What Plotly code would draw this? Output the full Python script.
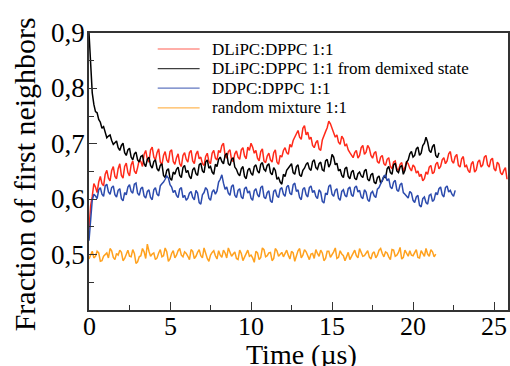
import plotly.graph_objects as go

# ---------------- data ----------------
dt = 0.2  # main sampling step in microseconds (mid-points are at +0.1)

red_vals = [
    0.545, 0.605, 0.622, 0.631, 0.628, 0.645, 0.638, 0.652, 0.641, 0.655,
    0.643, 0.659, 0.648, 0.662, 0.651, 0.657, 0.668, 0.681, 0.672, 0.689,
    0.676, 0.684, 0.667, 0.679, 0.671, 0.686, 0.668, 0.675, 0.664, 0.679,
    0.672, 0.684, 0.669, 0.681, 0.673, 0.664, 0.677, 0.668, 0.683, 0.674,
    0.688, 0.697, 0.679, 0.686, 0.671, 0.682, 0.676, 0.689, 0.678, 0.694,
    0.701, 0.683, 0.674, 0.686, 0.669, 0.678, 0.671, 0.684, 0.667, 0.679,
    0.688, 0.684, 0.699, 0.706, 0.719, 0.712, 0.728, 0.716, 0.708, 0.697,
    0.702, 0.691, 0.707, 0.722, 0.741, 0.728, 0.712, 0.703, 0.714, 0.696,
    0.689, 0.678, 0.684, 0.674, 0.693, 0.681, 0.697, 0.679, 0.683, 0.668,
    0.676, 0.664, 0.672, 0.659, 0.667, 0.655, 0.663, 0.651, 0.668, 0.656,
    0.662, 0.647, 0.641, 0.633, 0.649, 0.658, 0.646, 0.663, 0.655, 0.671,
    0.664, 0.682, 0.669, 0.677, 0.661, 0.673, 0.658, 0.652, 0.664, 0.649,
    0.667, 0.658, 0.676, 0.662, 0.671, 0.655, 0.667, 0.648, 0.652, 0.636,
]
red_mids = [
    0.588, 0.628, 0.612, 0.641, 0.624, 0.652, 0.633, 0.659, 0.637, 0.664,
    0.638, 0.665, 0.642, 0.669, 0.646, 0.671, 0.659, 0.688, 0.667, 0.694,
    0.671, 0.691, 0.662, 0.686, 0.666, 0.689, 0.663, 0.682, 0.659, 0.684,
    0.667, 0.688, 0.664, 0.687, 0.676, 0.661, 0.683, 0.664, 0.688, 0.671,
    0.684, 0.701, 0.674, 0.689, 0.668, 0.687, 0.672, 0.693, 0.673, 0.688,
    0.694, 0.688, 0.669, 0.691, 0.666, 0.683, 0.667, 0.689, 0.663, 0.676,
    0.693, 0.681, 0.694, 0.713, 0.724, 0.708, 0.733, 0.721, 0.712, 0.693,
    0.706, 0.688, 0.713, 0.729, 0.736, 0.722, 0.716, 0.699, 0.709, 0.699,
    0.684, 0.675, 0.688, 0.679, 0.697, 0.685, 0.692, 0.674, 0.686, 0.665,
    0.679, 0.661, 0.675, 0.655, 0.669, 0.652, 0.666, 0.657, 0.664, 0.651,
    0.658, 0.651, 0.645, 0.637, 0.645, 0.661, 0.649, 0.667, 0.659, 0.675,
    0.669, 0.686, 0.665, 0.681, 0.658, 0.677, 0.661, 0.648, 0.668, 0.653,
    0.671, 0.662, 0.679, 0.658, 0.674, 0.651, 0.663, 0.644, 0.657,
]

black_early_t = [0.0, 0.05, 0.1, 0.15]
black_early = [0.900, 0.865, 0.838, 0.815]
black_vals = [  # from t = 0.2 onwards
    0.792, 0.758, 0.744, 0.728, 0.721, 0.714, 0.706, 0.702, 0.693, 0.697,
    0.684, 0.689, 0.676, 0.682, 0.671, 0.677, 0.664, 0.672, 0.661, 0.668,
    0.655, 0.661, 0.643, 0.652, 0.638, 0.649, 0.654, 0.643, 0.657, 0.648,
    0.641, 0.653, 0.646, 0.662, 0.651, 0.667, 0.656, 0.649, 0.663, 0.672,
    0.668, 0.679, 0.664, 0.672, 0.658, 0.646, 0.655, 0.641, 0.652, 0.647,
    0.659, 0.651, 0.663, 0.654, 0.661, 0.648, 0.657, 0.636, 0.631, 0.645,
    0.652, 0.661, 0.648, 0.659, 0.644, 0.652, 0.663, 0.655, 0.668, 0.657,
    0.664, 0.653, 0.669, 0.658, 0.681, 0.662, 0.651, 0.643, 0.655, 0.641,
    0.649, 0.638, 0.646, 0.642, 0.651, 0.636, 0.644, 0.631, 0.639, 0.629,
    0.642, 0.655, 0.648, 0.662, 0.651, 0.658, 0.645, 0.667, 0.682, 0.676,
    0.691, 0.679, 0.697, 0.712, 0.688, 0.695, 0.679, 0.684,
]
black_mids = [
    0.771, 0.756, 0.739, 0.731, 0.711, 0.716, 0.699, 0.705, 0.688, 0.701,
    0.679, 0.692, 0.671, 0.685, 0.667, 0.679, 0.659, 0.676, 0.656, 0.671,
    0.651, 0.664, 0.639, 0.655, 0.634, 0.645, 0.658, 0.639, 0.661, 0.652,
    0.637, 0.657, 0.643, 0.665, 0.648, 0.671, 0.659, 0.645, 0.659, 0.676,
    0.664, 0.683, 0.661, 0.675, 0.654, 0.642, 0.659, 0.637, 0.656, 0.643,
    0.662, 0.647, 0.666, 0.651, 0.664, 0.644, 0.652, 0.639, 0.627, 0.641,
    0.656, 0.664, 0.645, 0.662, 0.641, 0.656, 0.666, 0.652, 0.671, 0.654,
    0.667, 0.651, 0.672, 0.664, 0.676, 0.665, 0.654, 0.639, 0.658, 0.637,
    0.652, 0.635, 0.649, 0.639, 0.654, 0.633, 0.647, 0.628, 0.642, 0.633,
    0.638, 0.659, 0.645, 0.665, 0.648, 0.661, 0.652, 0.671, 0.686, 0.679,
    0.694, 0.683, 0.701, 0.703, 0.684, 0.699, 0.675,
]

blue_vals = [
    0.525, 0.598, 0.606, 0.617, 0.609, 0.624, 0.613, 0.621, 0.608, 0.616,
    0.601, 0.612, 0.622, 0.614, 0.627, 0.611, 0.619, 0.606, 0.614, 0.603,
    0.617, 0.609, 0.624, 0.631, 0.642, 0.626, 0.612, 0.607, 0.618, 0.603,
    0.598, 0.611, 0.603, 0.616, 0.594, 0.608, 0.621, 0.602, 0.613, 0.609,
    0.631, 0.644, 0.618, 0.611, 0.623, 0.607, 0.616, 0.604, 0.619, 0.611,
    0.602, 0.615, 0.608, 0.621, 0.604, 0.612, 0.597, 0.614, 0.606, 0.618,
    0.609, 0.622, 0.611, 0.626, 0.614, 0.603, 0.618, 0.608, 0.621, 0.612,
    0.605, 0.617, 0.596, 0.611, 0.623, 0.609, 0.616, 0.602, 0.614, 0.607,
    0.619, 0.608, 0.621, 0.613, 0.604, 0.617, 0.599, 0.611, 0.606, 0.618,
    0.628, 0.641, 0.633, 0.622, 0.631, 0.617, 0.626, 0.612, 0.606, 0.614,
    0.598, 0.604, 0.589, 0.601, 0.594, 0.607, 0.596, 0.612, 0.619, 0.608,
    0.621, 0.613, 0.609, 0.616,
]
blue_mids = [
    0.571, 0.609, 0.601, 0.621, 0.605, 0.627, 0.609, 0.624, 0.604, 0.619,
    0.597, 0.608, 0.626, 0.611, 0.629, 0.607, 0.622, 0.602, 0.617, 0.599,
    0.621, 0.606, 0.628, 0.636, 0.638, 0.622, 0.616, 0.603, 0.621, 0.607,
    0.602, 0.614, 0.599, 0.611, 0.591, 0.612, 0.617, 0.598, 0.617, 0.615,
    0.636, 0.629, 0.622, 0.607, 0.626, 0.603, 0.619, 0.601, 0.622, 0.615,
    0.598, 0.619, 0.604, 0.624, 0.601, 0.615, 0.594, 0.617, 0.603, 0.621,
    0.605, 0.625, 0.608, 0.629, 0.617, 0.599, 0.621, 0.604, 0.624, 0.616,
    0.601, 0.613, 0.593, 0.608, 0.626, 0.605, 0.619, 0.598, 0.617, 0.604,
    0.622, 0.605, 0.624, 0.616, 0.601, 0.613, 0.596, 0.614, 0.603, 0.621,
    0.633, 0.644, 0.637, 0.619, 0.634, 0.614, 0.629, 0.609, 0.602, 0.611,
    0.594, 0.607, 0.586, 0.604, 0.591, 0.609, 0.599, 0.608, 0.622, 0.604,
    0.624, 0.616, 0.605,
]

orange_vals = [
    0.492, 0.506, 0.497, 0.503, 0.489, 0.501, 0.494, 0.507, 0.491, 0.499,
    0.504, 0.493, 0.508, 0.496, 0.502, 0.487, 0.498, 0.505, 0.519, 0.497,
    0.503, 0.494, 0.509, 0.498, 0.505, 0.492, 0.507, 0.499, 0.511, 0.496,
    0.502, 0.491, 0.506, 0.497, 0.509, 0.494, 0.501, 0.488, 0.504, 0.498,
    0.507, 0.495, 0.503, 0.512, 0.497, 0.505, 0.491, 0.502, 0.496, 0.508,
    0.499, 0.486, 0.503, 0.495, 0.509, 0.498, 0.504, 0.493, 0.507, 0.501,
    0.496, 0.508, 0.492, 0.503, 0.497, 0.511, 0.499, 0.505, 0.491, 0.502,
    0.509, 0.497, 0.503, 0.493, 0.506, 0.499, 0.512, 0.495, 0.501, 0.489,
    0.504, 0.497, 0.508, 0.494, 0.502, 0.498, 0.507, 0.492, 0.505, 0.499,
    0.511, 0.496, 0.503, 0.491, 0.508, 0.499, 0.513, 0.495, 0.502, 0.507,
    0.498, 0.509, 0.494, 0.503, 0.511, 0.497, 0.505, 0.501,
]
orange_mids = [
    0.501, 0.494, 0.506, 0.488, 0.497, 0.503, 0.511, 0.495, 0.502, 0.508,
    0.489, 0.502, 0.497, 0.509, 0.484, 0.496, 0.511, 0.493, 0.506, 0.501,
    0.491, 0.503, 0.496, 0.512, 0.488, 0.502, 0.494, 0.507, 0.499, 0.505,
    0.497, 0.509, 0.493, 0.504, 0.498, 0.512, 0.493, 0.499, 0.507, 0.492,
    0.499, 0.508, 0.494, 0.505, 0.501, 0.493, 0.508, 0.489, 0.503, 0.497,
    0.494, 0.506, 0.491, 0.512, 0.496, 0.503, 0.489, 0.511, 0.497, 0.504,
    0.503, 0.499, 0.506, 0.488, 0.507, 0.494, 0.509, 0.497, 0.501, 0.493,
    0.502, 0.508, 0.489, 0.506, 0.495, 0.505, 0.493, 0.507, 0.498, 0.496,
    0.491, 0.503, 0.498, 0.511, 0.497, 0.504, 0.496, 0.502, 0.494, 0.508,
    0.502, 0.505, 0.496, 0.509, 0.497, 0.504, 0.492, 0.508, 0.497, 0.499,
    0.503, 0.495, 0.507, 0.497, 0.501, 0.509, 0.496,
]

series_names = [
    "DLiPC:DPPC 1:1",
    "DLiPC:DPPC 1:1 from demixed state",
    "DDPC:DPPC 1:1",
    "random mixture 1:1",
]
series_colors = ["#ff2a1a", "#000000", "#2c4bad", "#ffa11e"]
x_tick_vals = [0, 5, 10, 15, 20, 25]
y_tick_vals = [0.5, 0.6, 0.7, 0.8, 0.9]
x_tick_text = ["0", "5", "10", "15", "20", "25"]
y_tick_text = ["0,5", "0,6", "0,7", "0,8", "0,9"]
x_title = "Time (µs)"
y_title = "Fraction of first neighbors"


def interleave(main, mids):
    out = []
    for i, v in enumerate(main):
        out.append(v)
        if i < len(mids):
            out.append(mids[i])
    return out


def grid(n, start=0.0, step=dt / 2):
    return [round(start + step * i, 3) for i in range(n)]


red_y = interleave(red_vals, red_mids)
red_t = grid(len(red_y))
black_y = black_early + interleave(black_vals, black_mids)
black_t = black_early_t + grid(len(black_y) - len(black_early), 0.2)
blue_y = interleave(blue_vals, blue_mids)
blue_t = grid(len(blue_y))
orange_y = interleave(orange_vals, orange_mids)
orange_t = grid(len(orange_y))

FONT = "Liberation Serif"

fig = go.Figure()
for t, v, name, col in [
    (red_t, red_y, series_names[0], series_colors[0]),
    (black_t, black_y, series_names[1], series_colors[1]),
    (blue_t, blue_y, series_names[2], series_colors[2]),
    (orange_t, orange_y, series_names[3], series_colors[3]),
]:
    fig.add_trace(go.Scatter(x=t, y=v, mode="lines", name=name,
                             line=dict(color=col, width=1.5),
                             showlegend=False))

# hand-placed legend (line samples + labels)
leg_rows_y = [0.9422, 0.8715, 0.8007, 0.7300]
for name, col, yy in zip(series_names, series_colors, leg_rows_y):
    fig.add_shape(type="line", xref="paper", yref="paper",
                  x0=0.164, x1=0.264, y0=yy, y1=yy,
                  line=dict(color=col, width=1.2), opacity=0.75)
    fig.add_annotation(xref="paper", yref="paper", x=0.292, y=yy,
                       text=name, showarrow=False, xanchor="left",
                       yanchor="middle", borderpad=0,
                       font=dict(family=FONT, size=17, color="#000000"))

# tick labels (serif), positioned at the tick values through the axes
for v, txt in zip(x_tick_vals, x_tick_text):
    fig.add_annotation(xref="x", yref="paper", x=v, y=0, yshift=-1,
                       text=txt, showarrow=False, xanchor="center",
                       yanchor="top", borderpad=0,
                       font=dict(family=FONT, size=26, color="#000000"))
for v, txt in zip(y_tick_vals, y_tick_text):
    fig.add_annotation(xref="paper", yref="y", x=0, y=v, xshift=-3,
                       text=txt, showarrow=False, xanchor="right",
                       yanchor="middle", borderpad=0,
                       font=dict(family=FONT, size=27, color="#000000"))

# axis titles
fig.add_annotation(xref="paper", yref="paper", x=0.508, y=0, yshift=-28,
                   text=x_title, showarrow=False, xanchor="center",
                   yanchor="top", borderpad=0,
                   font=dict(family=FONT, size=28, color="#000000"))
fig.add_annotation(xref="paper", yref="paper", x=-0.155, y=0.49,
                   text=y_title, showarrow=False, textangle=-90,
                   xanchor="center", yanchor="middle",
                   font=dict(family=FONT, size=30, color="#000000"))

axis_common = dict(
    showline=True, linecolor="#333333", linewidth=1.5, mirror=True,
    ticks="inside", ticklen=8, tickwidth=1.2, tickcolor="#333333",
    showgrid=False, zeroline=False, showticklabels=False,
)

fig.update_layout(
    width=510, height=366,
    margin=dict(l=89, r=0, t=33, b=56),
    paper_bgcolor="white", plot_bgcolor="white",
    font=dict(family=FONT, color="#000000"),
    xaxis=dict(
        range=[0, 25.86], tickvals=x_tick_vals,
        minor=dict(ticks="inside", dtick=2.5, tick0=0, ticklen=5,
                   tickwidth=1.2, tickcolor="#333333"),
        **axis_common,
    ),
    yaxis=dict(
        range=[0.4, 0.9], tickvals=y_tick_vals,
        minor=dict(ticks="inside", dtick=0.05, tick0=0.4, ticklen=5,
                   tickwidth=1.2, tickcolor="#333333"),
        **axis_common,
    ),
)

fig.write_html("out.html")
